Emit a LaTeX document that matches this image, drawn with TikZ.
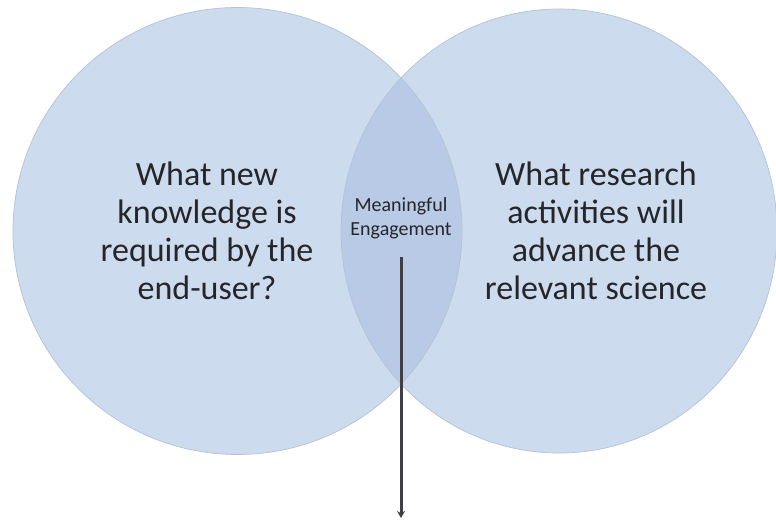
\documentclass[tikz,border=0pt]{standalone}
\usepackage{fontspec}
\setmainfont{Carlito}
\usetikzlibrary{arrows.meta}
\definecolor{vfill}{RGB}{205,219,238}
\definecolor{vover}{RGB}{184,202,229}
\definecolor{vline}{RGB}{180,194,214}
\definecolor{vtext}{RGB}{38,38,42}
\definecolor{varrow}{RGB}{64,64,68}
\begin{document}
\begin{tikzpicture}[x=1pt,y=-1pt,
  bigtext/.style={font=\fontsize{34}{38}\selectfont, align=center, text=vtext, inner sep=0pt},
  smalltext/.style={font=\fontsize{20}{24}\selectfont, align=center, text=vtext, inner sep=0pt},
  conn/.style={-{Stealth[length=7pt,width=8pt]}, line width=3pt, draw=varrow}]
\useasboundingbox (0,0) rectangle (776,523);
\fill[white] (0,0) rectangle (776,523);
% circles
\fill[vfill] (237.5,231) ellipse [x radius=224.5pt, y radius=223.5pt];
\fill[vfill] (559,231) ellipse [x radius=218pt, y radius=222pt];
\begin{scope}
  \clip (237.5,231) ellipse [x radius=224.5pt, y radius=223.5pt];
  \fill[vover] (559,231) ellipse [x radius=218pt, y radius=222pt];
\end{scope}
\draw[vline, line width=0.7pt] (237.5,231) ellipse [x radius=224.5pt, y radius=223.5pt];
\draw[vline, line width=0.7pt] (559,231) ellipse [x radius=218pt, y radius=222pt];
% texts
\node[bigtext] (left) at (207,231) {What new\\knowledge is\\required by the\\end-user?};
\node[bigtext] (right) at (596,231) {What research\\activities will\\advance the\\relevant science};
\node[smalltext] (mid) at (401,218) {Meaningful\\Engagement};
% arrow
\coordinate (tip) at (401,518);
\draw[conn, shorten <=18pt] (mid.south) -- (tip);
\end{tikzpicture}
\end{document}
